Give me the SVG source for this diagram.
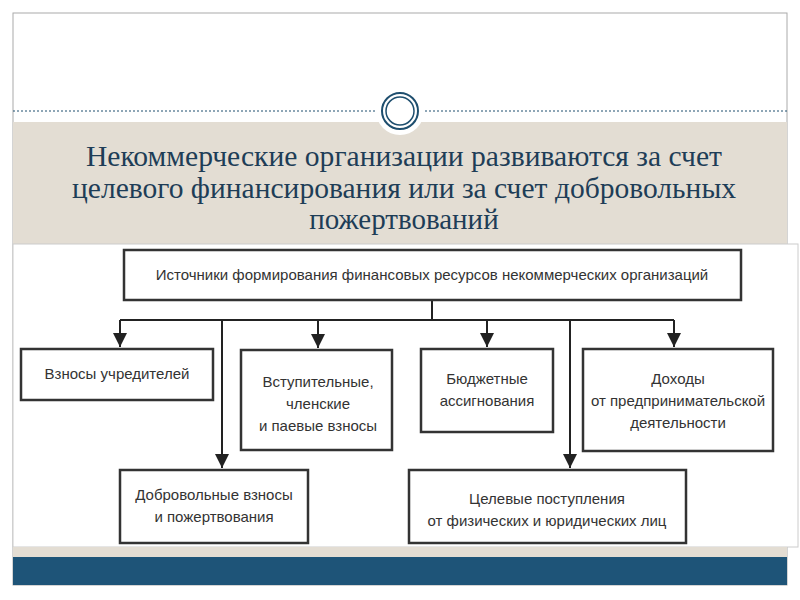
<svg xmlns="http://www.w3.org/2000/svg" width="800" height="600" viewBox="0 0 800 600">
<defs>
<marker id="ah" viewBox="0 0 10 10" refX="10" refY="5" markerWidth="7" markerHeight="7" orient="auto"><path d="M0,0 L10,5 L0,10 z" fill="#222"/></marker>
<style>
.box{fill:#fff;stroke:#333;stroke-width:2.5}
.t{font-family:"Liberation Sans Narrow","Liberation Sans",sans-serif;font-size:15px;fill:#333;text-anchor:middle}
.c{stroke:#222;stroke-width:2;fill:none}
</style>
</defs>
<rect width="800" height="600" fill="#fff"/>
<rect x="13" y="13" width="774" height="572" fill="#fff" stroke="#aaa"/>
<rect x="13" y="122" width="774" height="122" fill="#e3ddd3"/>
<line x1="13" y1="111" x2="787" y2="111" stroke="#1e4e6e" stroke-dasharray="2,2"/>
<circle cx="400" cy="111" r="24" fill="#fff"/>
<circle cx="400" cy="111" r="18" fill="none" stroke="#1e4e6e" stroke-width="2"/>
<circle cx="400" cy="111" r="14" fill="none" stroke="#1e4e6e" stroke-width="1.5"/>
<g font-family="'Liberation Serif',serif" font-size="29" fill="#1e3d57" text-anchor="middle">
<text x="404" y="166" textLength="636" lengthAdjust="spacingAndGlyphs">Некоммерческие организации развиваются за счет</text>
<text x="404" y="198" textLength="664" lengthAdjust="spacingAndGlyphs">целевого финансирования или за счет добровольных</text>
<text x="404" y="229">пожертвований</text>
</g>
<rect x="13" y="244" width="785" height="303" fill="#fff" stroke="#ccc"/>
<rect x="13" y="547" width="774" height="10" fill="#e3ddd3"/>
<rect x="13" y="557" width="774" height="28" fill="#1e5478"/>
<g id="connectors">
<path class="c" d="M432,300 V320 M120,320 H674"/>
<path class="c" d="M120,320 V347" marker-end="url(#ah)"/>
<path class="c" d="M222,320 V468" marker-end="url(#ah)"/>
<path class="c" d="M318,320 V348" marker-end="url(#ah)"/>
<path class="c" d="M487,320 V347" marker-end="url(#ah)"/>
<path class="c" d="M570,320 V468" marker-end="url(#ah)"/>
<path class="c" d="M674,320 V347" marker-end="url(#ah)"/>
</g>
<g id="root"><rect class="box" x="124" y="250" width="617" height="50"/><text class="t" x="432" y="280">Источники формирования финансовых ресурсов некоммерческих организаций</text></g>
<g id="n1"><rect class="box" x="21" y="349" width="192" height="51"/><text class="t" x="117" y="379">Взносы учредителей</text></g>
<g id="n2"><rect class="box" x="241" y="350" width="151" height="100"/><text class="t" x="318" y="387">Вступительные,</text><text class="t" x="318" y="409">членские</text><text class="t" x="318" y="431">и паевые взносы</text></g>
<g id="n3"><rect class="box" x="421" y="349" width="132" height="83"/><text class="t" x="487" y="384">Бюджетные</text><text class="t" x="487" y="406">ассигнования</text></g>
<g id="n4"><rect class="box" x="583" y="349" width="190" height="102"/><text class="t" x="678" y="384">Доходы</text><text class="t" x="678" y="406">от предпринимательской</text><text class="t" x="678" y="428">деятельности</text></g>
<g id="n5"><rect class="box" x="120" y="470" width="188" height="73"/><text class="t" x="214" y="500">Добровольные взносы</text><text class="t" x="214" y="522">и пожертвования</text></g>
<g id="n6"><rect class="box" x="409" y="470" width="277" height="73"/><text class="t" x="547" y="504">Целевые поступления</text><text class="t" x="547" y="526">от физических  и юридических лиц</text></g>
</svg>
